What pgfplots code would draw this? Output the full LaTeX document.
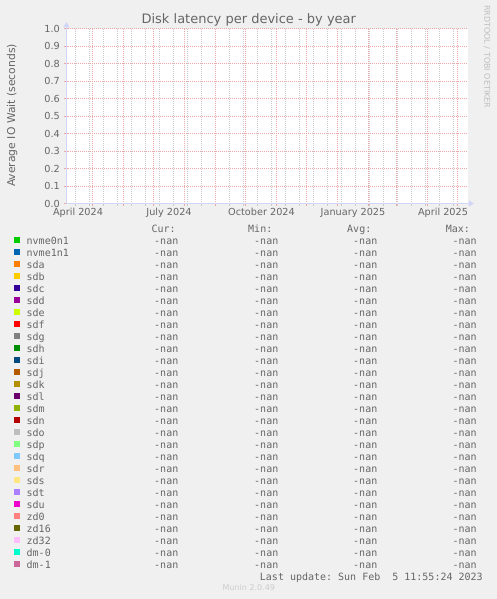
\documentclass[border=0pt]{standalone}
\usepackage{fontspec}
\setmainfont{DejaVu Sans}
\setmonofont{DejaVu Sans Mono}
\usepackage{pgfplots}
\pgfplotsset{compat=1.18}
\usetikzlibrary{arrows.meta}

% munin colours
\definecolor{bg}{HTML}{F0F0F0}
\definecolor{fontc}{HTML}{666666}
\definecolor{axisc}{HTML}{CFD6F8}
\definecolor{mgrid}{HTML}{ECA8A8}
\definecolor{grid}{HTML}{CACACA}
\definecolor{c01}{HTML}{00CC00}
\definecolor{c02}{HTML}{0066B3}
\definecolor{c03}{HTML}{FF8000}
\definecolor{c04}{HTML}{FFCC00}
\definecolor{c05}{HTML}{330099}
\definecolor{c06}{HTML}{990099}
\definecolor{c07}{HTML}{CCFF00}
\definecolor{c08}{HTML}{FF0000}
\definecolor{c09}{HTML}{808080}
\definecolor{c10}{HTML}{008F00}
\definecolor{c11}{HTML}{00487D}
\definecolor{c12}{HTML}{B35A00}
\definecolor{c13}{HTML}{B38F00}
\definecolor{c14}{HTML}{6B006B}
\definecolor{c15}{HTML}{8FB300}
\definecolor{c16}{HTML}{B30000}
\definecolor{c17}{HTML}{BEBEBE}
\definecolor{c18}{HTML}{80FF80}
\definecolor{c19}{HTML}{80C9FF}
\definecolor{c20}{HTML}{FFC080}
\definecolor{c21}{HTML}{FFE680}
\definecolor{c22}{HTML}{AA80FF}
\definecolor{c23}{HTML}{EE00CC}
\definecolor{c24}{HTML}{FF8080}
\definecolor{c25}{HTML}{666600}
\definecolor{c26}{HTML}{FFBFFF}
\definecolor{c27}{HTML}{00FFCC}
\definecolor{c28}{HTML}{CC6699}

% one legend row: name, then Cur/Min/Avg/Max (every device reports -nan)
\newcommand\dev[1]{\rlap{#1}\makebox[151.6bp][r]{-nan}\makebox[100bp][r]{-nan}\makebox[99bp][r]{-nan}\makebox[99.4bp][r]{-nan}}
\newcommand\hdr{\makebox[149bp][r]{Cur:}\makebox[96.6bp][r]{Min:}\makebox[99bp][r]{Avg:}\makebox[98.7bp][r]{Max:}}

\pgfplotsset{dev/.style={draw=none, fill=#1}}

\begin{document}
\begin{tikzpicture}
\fill[bg] (0,0) rectangle (497bp,-599bp);
\path[use as bounding box] (0,0) rectangle (497bp,-599bp);

\begin{axis}[
  at={(66.5bp,-203.5bp)}, anchor=south west,
  scale only axis, width=401bp, height=175bp,
  xmin=0, xmax=401, ymin=0, ymax=1,
  axis lines=left,
  axis line style={draw=axisc, line width=1bp, -{Triangle[length=5bp,width=6bp]}, shorten >=-6.4bp},
  axis background/.style={fill=white},
  tick align=outside,
  major tick length=2.5bp, minor tick length=2bp,
  major tick style={draw=mgrid, line width=1bp},
  minor tick style={draw=grid, line width=1bp},
  xtick={26,57,87,118,149,179,210,240,271,302,330,361,391},
  xticklabel={\mbox{}},
  minor xtick={9,23,...,387},
  ytick={0,0.1,0.2,0.3,0.4,0.5,0.6,0.7,0.8,0.9,1.0},
  xmajorgrids, xminorgrids, ymajorgrids,
  major grid style={draw=mgrid, line width=1bp, dash pattern=on 1bp off 1bp},
  minor grid style={draw=grid, line width=1bp, dash pattern=on 1bp off 1bp},
  y grid style={dash phase=0.5bp},
  extra x ticks={11.5,102.5,195,286.5,376.5},
  extra x tick labels={April 2024,July 2024,October 2024,January 2025,April 2025},
  extra x tick style={grid=none, major tick length=0pt},
  /pgf/number format/assume math mode=true,
  tick label style={font=\fontsize{9.7bp}{11bp}\selectfont, text=fontc},
  xticklabel style={anchor=base, yshift=-12.4bp},
  yticklabel style={anchor=east, inner sep=0pt, xshift=-4bp,
    /pgf/number format/.cd, fixed, fixed zerofill, precision=1},
  legend cell align=left,
  legend image code/.code={\fill[#1] (0bp,0.7bp) rectangle (6bp,6.7bp);},
  legend style={at={(0,0)}, anchor=north west, xshift=-52.5bp, yshift=-21bp,
    draw=none, fill=none, inner sep=0pt, outer sep=0pt,
    row sep=2bp, column sep=6.7bp,
    font=\ttfamily\fontsize{10bp}{12bp}\selectfont, text=fontc,
    nodes={inner sep=0pt, outer sep=0pt, text height=7.5bp, text depth=2.5bp, anchor=base west}},
]
\addlegendimage{empty legend}\addlegendentry{\hdr}
\addlegendimage{dev=c01}\addlegendentry{\dev{nvme0n1}}
\addlegendimage{dev=c02}\addlegendentry{\dev{nvme1n1}}
\addlegendimage{dev=c03}\addlegendentry{\dev{sda}}
\addlegendimage{dev=c04}\addlegendentry{\dev{sdb}}
\addlegendimage{dev=c05}\addlegendentry{\dev{sdc}}
\addlegendimage{dev=c06}\addlegendentry{\dev{sdd}}
\addlegendimage{dev=c07}\addlegendentry{\dev{sde}}
\addlegendimage{dev=c08}\addlegendentry{\dev{sdf}}
\addlegendimage{dev=c09}\addlegendentry{\dev{sdg}}
\addlegendimage{dev=c10}\addlegendentry{\dev{sdh}}
\addlegendimage{dev=c11}\addlegendentry{\dev{sdi}}
\addlegendimage{dev=c12}\addlegendentry{\dev{sdj}}
\addlegendimage{dev=c13}\addlegendentry{\dev{sdk}}
\addlegendimage{dev=c14}\addlegendentry{\dev{sdl}}
\addlegendimage{dev=c15}\addlegendentry{\dev{sdm}}
\addlegendimage{dev=c16}\addlegendentry{\dev{sdn}}
\addlegendimage{dev=c17}\addlegendentry{\dev{sdo}}
\addlegendimage{dev=c18}\addlegendentry{\dev{sdp}}
\addlegendimage{dev=c19}\addlegendentry{\dev{sdq}}
\addlegendimage{dev=c20}\addlegendentry{\dev{sdr}}
\addlegendimage{dev=c21}\addlegendentry{\dev{sds}}
\addlegendimage{dev=c22}\addlegendentry{\dev{sdt}}
\addlegendimage{dev=c23}\addlegendentry{\dev{sdu}}
\addlegendimage{dev=c24}\addlegendentry{\dev{zd0}}
\addlegendimage{dev=c25}\addlegendentry{\dev{zd16}}
\addlegendimage{dev=c26}\addlegendentry{\dev{zd32}}
\addlegendimage{dev=c27}\addlegendentry{\dev{dm-0}}
\addlegendimage{dev=c28}\addlegendentry{\dev{dm-1}}
\addlegendimage{empty legend}\addlegendentry{\makebox[456bp][r]{Last update: Sun Feb\ \ 5 11:55:24 2023}}
\end{axis}

\node[anchor=base, font=\fontsize{13bp}{15bp}\selectfont, text=fontc] at (248.8bp,-23.3bp) {Disk latency per device - by year};
\node[anchor=base, rotate=90, font=\fontsize{10.8bp}{12bp}\selectfont, text=fontc] at (15bp,-115.5bp) {Average IO Wait (seconds)};
\node[anchor=base west, rotate=-90, inner sep=0pt, font=\fontsize{8bp}{9bp}\selectfont, text=black!25] at (484.3bp,-5bp) {RRDTOOL / TOBI OETIKER};
\node[anchor=base, font=\fontsize{8bp}{9bp}\selectfont, text=black!20] at (248.8bp,-590.7bp) {Munin 2.0.49};
\end{tikzpicture}
\end{document}
